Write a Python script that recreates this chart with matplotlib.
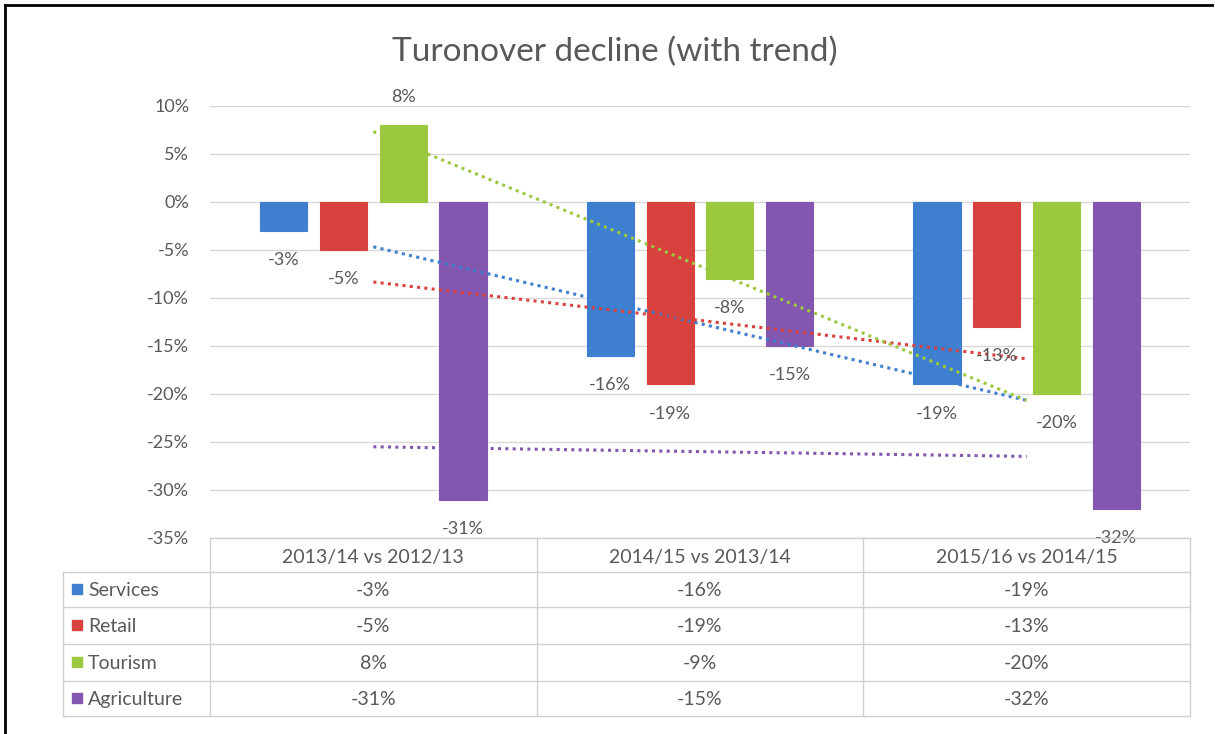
import numpy as np
import matplotlib
matplotlib.use("Agg")
from matplotlib import pyplot as plt
from matplotlib.lines import Line2D
from matplotlib.patches import Rectangle

plt.rcParams['font.family'] = ['Lato', 'DejaVu Sans']

periods = ["2013/14 vs 2012/13", "2014/15 vs 2013/14", "2015/16 vs 2014/15"]
series = ["Services", "Retail", "Tourism", "Agriculture"]
services = [-3, -16, -19]
retail = [-5, -19, -13]
tourism = [8, -8, -20]
agriculture = [-31, -15, -32]
# the table under the chart shows -9% for tourism 2014/15 (kept as in the picture)
table_text = [["-3%", "-16%", "-19%"],
              ["-5%", "-19%", "-13%"],
              ["8%", "-9%", "-20%"],
              ["-31%", "-15%", "-32%"]]
colors = ["#3f7fcf", "#d7423f", "#9cc83f", "#8357b0"]
yticks = [10, 5, 0, -5, -10, -15, -20, -25, -30, -35]

grey = "#595959"
W, H = 1215, 734
fig = plt.figure(figsize=(12.15, 7.34), dpi=100)

# plot area in pixel coords
left, right, top, bottom = 210, 1190, 106, 538
ax = fig.add_axes([left / W, 1 - bottom / H, (right - left) / W, (bottom - top) / H])

x = np.arange(len(periods))
step = 0.183
bw = 0.144
all_vals = [services, retail, tourism, agriculture]
for i, (name, vals) in enumerate(zip(series, all_vals)):
    pos = x + (i - 1.5) * step
    ax.bar(pos, vals, bw, color=colors[i], edgecolor=colors[i], linewidth=0.8, zorder=3)
    for p, v in zip(pos, vals):
        off = 20 if v >= 0 else -21
        ax.annotate(f"{v}%", (p, v), xytext=(0, off), textcoords="offset points",
                    ha="center", va="center", fontsize=13, color=grey, zorder=5)
    # linear trend over the three periods
    k, b = np.polyfit(x, vals, 1)
    ax.plot(x, k * x + b, color=colors[i], linestyle=(0, (1, 1.4)), linewidth=2.2, zorder=4)

ax.set_xlim(-0.5, 2.5)
ax.set_ylim(-35, 10)
ax.set_yticks(yticks)
ax.set_yticklabels([f"{t}%" for t in yticks], fontsize=13, color=grey)
ax.tick_params(axis="y", length=0, pad=15)
ax.set_xticks([])
ax.grid(axis="y", color="#d9d9d9", linewidth=1, zorder=0)
for s in ax.spines.values():
    s.set_visible(False)

fig.text(615 / W, 1 - 52 / H, "Turonover decline (with trend)", ha="center", va="center",
         fontsize=24, color=grey)

# data table
line_c = "#d0d0d0"
tleft = 63
rows_y = [538, 572, 607, 644, 681, 716]
col_x = [left + j * (right - left) / 3 for j in range(4)]

def fx(px):
    return px / W

def fy(py):
    return 1 - py / H

# header
fig.add_artist(Line2D([fx(left), fx(right)], [fy(rows_y[0])] * 2, color=line_c, lw=1))
for cx in col_x:
    fig.add_artist(Line2D([fx(cx)] * 2, [fy(rows_y[0]), fy(rows_y[-1])], color=line_c, lw=1))
for ry in rows_y[1:]:
    fig.add_artist(Line2D([fx(tleft), fx(right)], [fy(ry)] * 2, color=line_c, lw=1))
fig.add_artist(Line2D([fx(tleft)] * 2, [fy(rows_y[1]), fy(rows_y[-1])], color=line_c, lw=1))

for j, per in enumerate(periods):
    fig.text(fx((col_x[j] + col_x[j + 1]) / 2), fy((rows_y[0] + rows_y[1]) / 2 + 2), per,
             ha="center", va="center", fontsize=14, color=grey)
for i, name in enumerate(series):
    cy = (rows_y[i + 1] + rows_y[i + 2]) / 2 + 1
    fig.add_artist(Rectangle((fx(72), fy(cy + 3)), 10 / W, 10 / H, color=colors[i]))
    fig.text(fx(88), fy(cy), name, ha="left", va="center", fontsize=14, color=grey)
    for j in range(3):
        fig.text(fx((col_x[j] + col_x[j + 1]) / 2), fy(cy), table_text[i][j],
                 ha="center", va="center", fontsize=14, color=grey)

# black frame at top and left
fig.add_artist(Line2D([fx(5), fx(1212)], [fy(5)] * 2, color="black", lw=2))
fig.add_artist(Line2D([fx(5)] * 2, [fy(5), fy(734)], color="black", lw=2))

fig.savefig("out.png", dpi=100)
